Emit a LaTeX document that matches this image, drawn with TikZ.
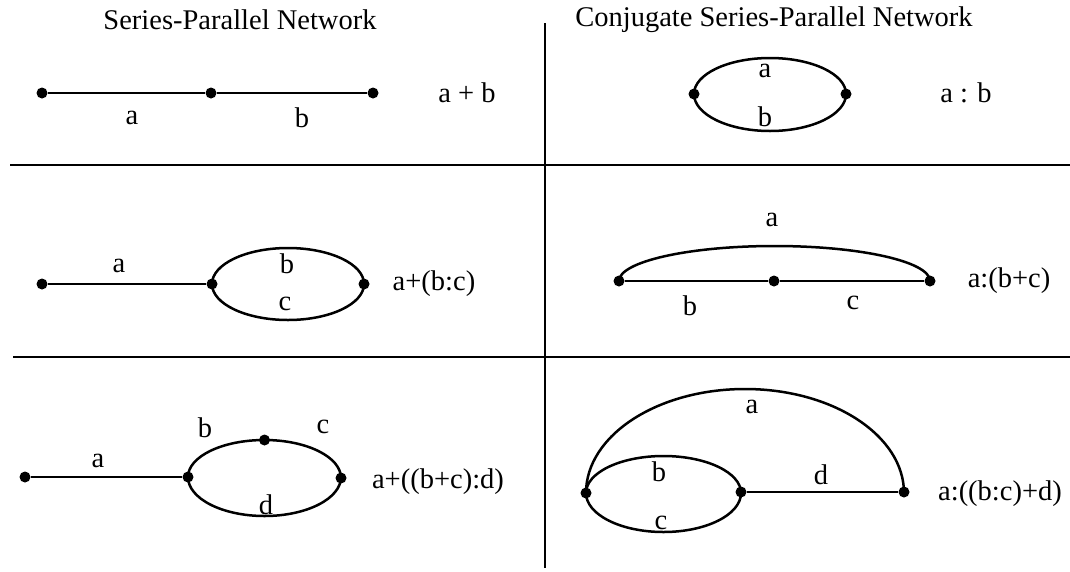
\documentclass[tikz,border=0pt]{standalone}
\usepackage{fontspec}
\setmainfont{Liberation Serif}
\usepackage{tikz}
\usetikzlibrary{positioning}
\tikzset{
  % Nodi della rete
  dot/.style={circle,fill=black,inner sep=0pt,minimum size=11pt},
  lbl/.style={inner sep=0pt,font=\fontsize{28.5}{33}\selectfont},
  % Connessioni
  wire/.style={line width=2.5pt,black},
  rule/.style={line width=2.8pt,black}
}
\begin{document}
\begin{tikzpicture}[x=1pt,y=-1pt]
    \useasboundingbox (0,0) rectangle (1070,571);
    % griglia
    \coordinate (v1) at (545,23);  \coordinate (v2) at (545,568);
    \coordinate (h1) at (10,165);  \coordinate (h2) at (1070,165);
    \coordinate (h3) at (13,357);  \coordinate (h4) at (1070,357);
    \draw[rule] (v1)--(v2);
    \draw[rule] (h1)--(h2);
    \draw[rule] (h3)--(h4);
    \node[lbl] (t1) at (240,20) {Series-Parallel Network};
    \node[lbl] (t2) at (774,20) {Conjugate Series-Parallel Network};
    % riga 1: a + b
    \node[dot] (p1) at (42,93) {};
    \node[dot] (p2) at (211,93) {};
    \node[dot] (p3) at (373,93) {};
    \draw[wire] (p1)--(p2);
    \draw[wire] (p2)--(p3);
    \node[lbl] at (132,118) {a};
    \node[lbl] at (302,118) {b};
    \node[lbl] (e1) at (467,93) {a + b};
    % riga 1: a : b
    \node[dot] (q1) at (694,94) {};
    \node[dot] (q2) at (846,94) {};
    \draw[wire] (q1.center) arc[start angle=180,end angle=0,x radius=76,y radius=-36];
    \draw[wire] (q1.center) arc[start angle=180,end angle=360,x radius=76,y radius=-37];
    \node[lbl] at (765,71) {a};
    \node[lbl] at (765,117) {b};
    \node[lbl] (e2) at (966,93) {a : b};
    % riga 2: a+(b:c)
    \node[dot] (r1) at (42,284) {};
    \node[dot] (r2) at (212,284) {};
    \node[dot] (r3) at (364,284) {};
    \draw[wire] (r1)--(r2);
    \draw[wire] (r2.center) arc[start angle=180,end angle=0,x radius=76,y radius=-36];
    \draw[wire] (r2.center) arc[start angle=180,end angle=360,x radius=76,y radius=-36];
    \node[lbl] at (119,266) {a};
    \node[lbl] at (287,264) {b};
    \node[lbl] at (285,304) {c};
    \node[lbl] (e3) at (434,284) {a+(b:c)};
    % riga 2: a:(b+c)
    \node[dot] (s1) at (619,281) {};
    \node[dot] (s2) at (774,281) {};
    \node[dot] (s3) at (930,281) {};
    \draw[wire] (s1)--(s2);
    \draw[wire] (s2)--(s3);
    \draw[wire] (s1.center) arc[start angle=180,end angle=0,x radius=155.5,y radius=-35];
    \node[lbl] at (772,220) {a};
    \node[lbl] at (690,306) {b};
    \node[lbl] at (853,303) {c};
    \node[lbl] (e4) at (1009,281) {a:(b+c)};
    % riga 3: a+((b+c):d)
    \node[dot] (u1) at (25,477) {};
    \node[dot] (u2) at (188,477) {};
    \node[dot] (u3) at (264.5,440) {};
    \node[dot] (u4) at (341,478) {};
    \draw[wire] (u1)--(u2);
    \draw[wire] (u2.center) arc[start angle=180,end angle=90,x radius=76.5,y radius=-37];
    \draw[wire] (u3.center) arc[start angle=90,end angle=0,x radius=76.5,y radius=-38];
    \draw[wire] (u2.center) arc[start angle=180,end angle=360,x radius=76.5,y radius=-39];
    \node[lbl] at (98,461) {a};
    \node[lbl] at (205,428) {b};
    \node[lbl] at (323,427) {c};
    \node[lbl] at (266,505) {d};
    \node[lbl] (e5) at (438,482) {a+((b+c):d)};
    % riga 3: a:((b:c)+d)
    \node[dot] (w1) at (586,493) {};
    \node[dot] (w2) at (741,492) {};
    \node[dot] (w3) at (904,492) {};
    \draw[wire] (w1.center) arc[start angle=180,end angle=0,x radius=77.5,y radius=-37];
    \draw[wire] (w1.center) arc[start angle=180,end angle=360,x radius=77.5,y radius=-39];
    \draw[wire] (w2)--(w3);
    \draw[wire] (w1.center) arc[start angle=180,end angle=0,x radius=159,y radius=-104];
    \node[lbl] at (752,407) {a};
    \node[lbl] at (659,472) {b};
    \node[lbl] at (661,523) {c};
    \node[lbl] at (821,475) {d};
    \node[lbl] (e6) at (1000,494) {a:((b:c)+d)};
  \end{tikzpicture}
\end{document}
